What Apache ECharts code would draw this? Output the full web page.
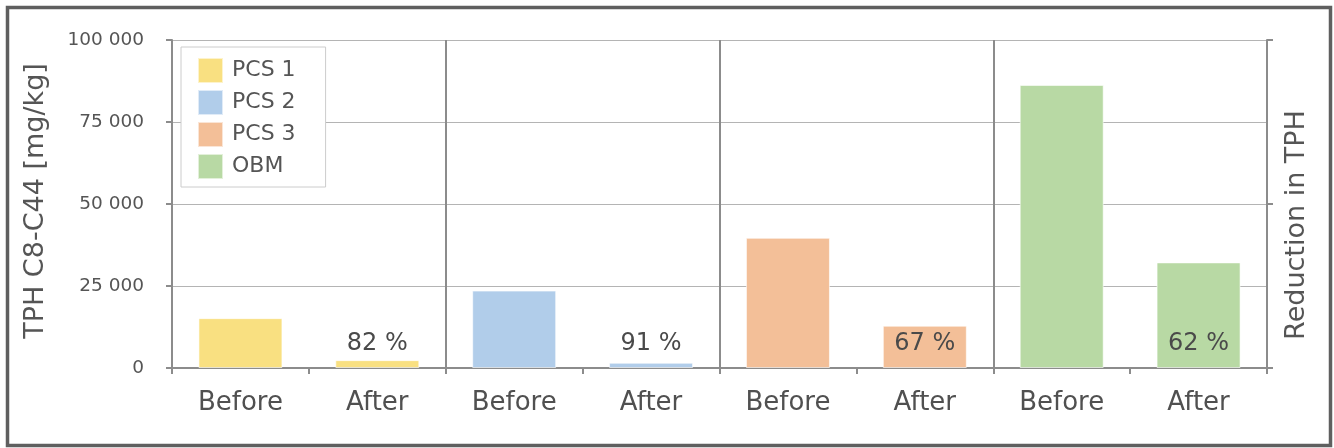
<!DOCTYPE html>
<html>
<head>
<meta charset="utf-8">
<script src="https://cdn.jsdelivr.net/npm/echarts@6/dist/echarts.min.js"></script>
<style>html,body{margin:0;padding:0;background:#fff;}#c{width:1334px;height:448px;}</style>
</head>
<body>
<div id="c"></div>
<script>
var categories = ['Before', 'After', 'Before', 'After', 'Before', 'After', 'Before', 'After'];
var groups = ['PCS 1', 'PCS 2', 'PCS 3', 'OBM'];
var beforeValues = [15200, 23600, 39700, 86300];
var afterValues = [2400, 1600, 12900, 32200];
var reductions = [82, 91, 67, 62];
var colors = ['#F9E081', '#B1CDEA', '#F3BF98', '#B8D9A4'];
var yTitle = 'TPH C8-C44 [mg/kg]';
var y2Title = 'Reduction in TPH';

var FONT = '"DejaVu Sans", "Noto Sans", sans-serif';
var TXT = '#555555';

var series = groups.map(function (g, gi) {
  var data = categories.map(function () { return null; });
  data[gi * 2] = beforeValues[gi];
  data[gi * 2 + 1] = afterValues[gi];
  return {
    name: g,
    type: 'bar',
    stack: 'all',
    barWidth: 84,
    data: data,
    itemStyle: { color: colors[gi], borderColor: 'rgba(255,255,255,0.6)', borderWidth: 1 },
    label: {
      show: true,
      position: 'insideBottom',
      distance: 12,
      fontFamily: FONT,
      fontSize: 24,
      color: '#4a4a4a',
      formatter: function (p) {
        return p.dataIndex === gi * 2 + 1 ? reductions[gi] + ' %' : '';
      }
    }
  };
});

var chart = echarts.init(document.getElementById('c'));
chart.setOption({
  animation: false,
  backgroundColor: '#ffffff',
  color: colors,
  grid: { left: 172, right: 67, top: 40, bottom: 80, containLabel: false },
  legend: {
    orient: 'vertical',
    left: 181,
    top: 47,
    padding: [10, 30, 7, 16],
    itemWidth: 25,
    itemHeight: 25,
    itemGap: 5,
    icon: 'rect',
    backgroundColor: '#ffffff',
    borderColor: '#cccccc',
    borderWidth: 1,
    borderRadius: 0,
    textStyle: { fontFamily: FONT, fontSize: 22, lineHeight: 25, color: TXT, padding: [0, 0, 0, 4] },
    data: groups
  },
  xAxis: {
    type: 'category',
    data: categories,
    axisLine: { lineStyle: { color: '#8c8c8c', width: 2 } },
    axisTick: { show: true, interval: 0, length: 6, lineStyle: { color: '#8c8c8c', width: 2 } },
    axisLabel: { interval: 0, margin: 22, fontFamily: FONT, fontSize: 26, color: '#505050' },
    splitLine: {
      show: true,
      interval: function (index) { return index % 2 === 0; },
      lineStyle: { color: '#8c8c8c', width: 2 }
    }
  },
  yAxis: [
    {
      type: 'value',
      min: 0,
      max: 100000,
      interval: 25000,
      axisLine: { show: true, lineStyle: { color: '#8c8c8c', width: 2 } },
      axisTick: { show: true, length: 6, lineStyle: { color: '#8c8c8c', width: 2 } },
      axisLabel: {
        margin: 28,
        fontFamily: FONT,
        fontSize: 18.5,
        color: TXT,
        formatter: function (v) { return String(v).replace(/\B(?=(\d{3})+(?!\d))/g, ' '); }
      },
      splitLine: { show: true, lineStyle: { color: '#b4b4b4', width: 1 } }
    },
    {
      type: 'value',
      min: 0,
      max: 100,
      interval: 50,
      position: 'right',
      axisLine: { show: true, lineStyle: { color: '#8c8c8c', width: 2 } },
      axisTick: { show: true, length: 6, lineStyle: { color: '#8c8c8c', width: 2 } },
      axisLabel: { show: false },
      splitLine: { show: false }
    }
  ],
  graphic: [
    {
      type: 'text',
      x: 36,
      y: 201,
      rotation: Math.PI / 2,
      silent: true,
      style: { text: yTitle, fontFamily: FONT, fontSize: 27, fill: TXT, align: 'center', verticalAlign: 'middle' }
    },
    {
      type: 'text',
      x: 1297,
      y: 225,
      rotation: Math.PI / 2,
      silent: true,
      style: { text: y2Title, fontFamily: FONT, fontSize: 27, fill: TXT, align: 'center', verticalAlign: 'middle' }
    },
    {
      type: 'rect',
      left: 5,
      top: 5,
      shape: { x: 0, y: 0, width: 1323, height: 438 },
      style: { fill: 'none', stroke: '#5f5f5f', lineWidth: 3.5 },
      silent: true,
      z: 100
    }
  ],
  series: series
});
</script>
</body>
</html>
